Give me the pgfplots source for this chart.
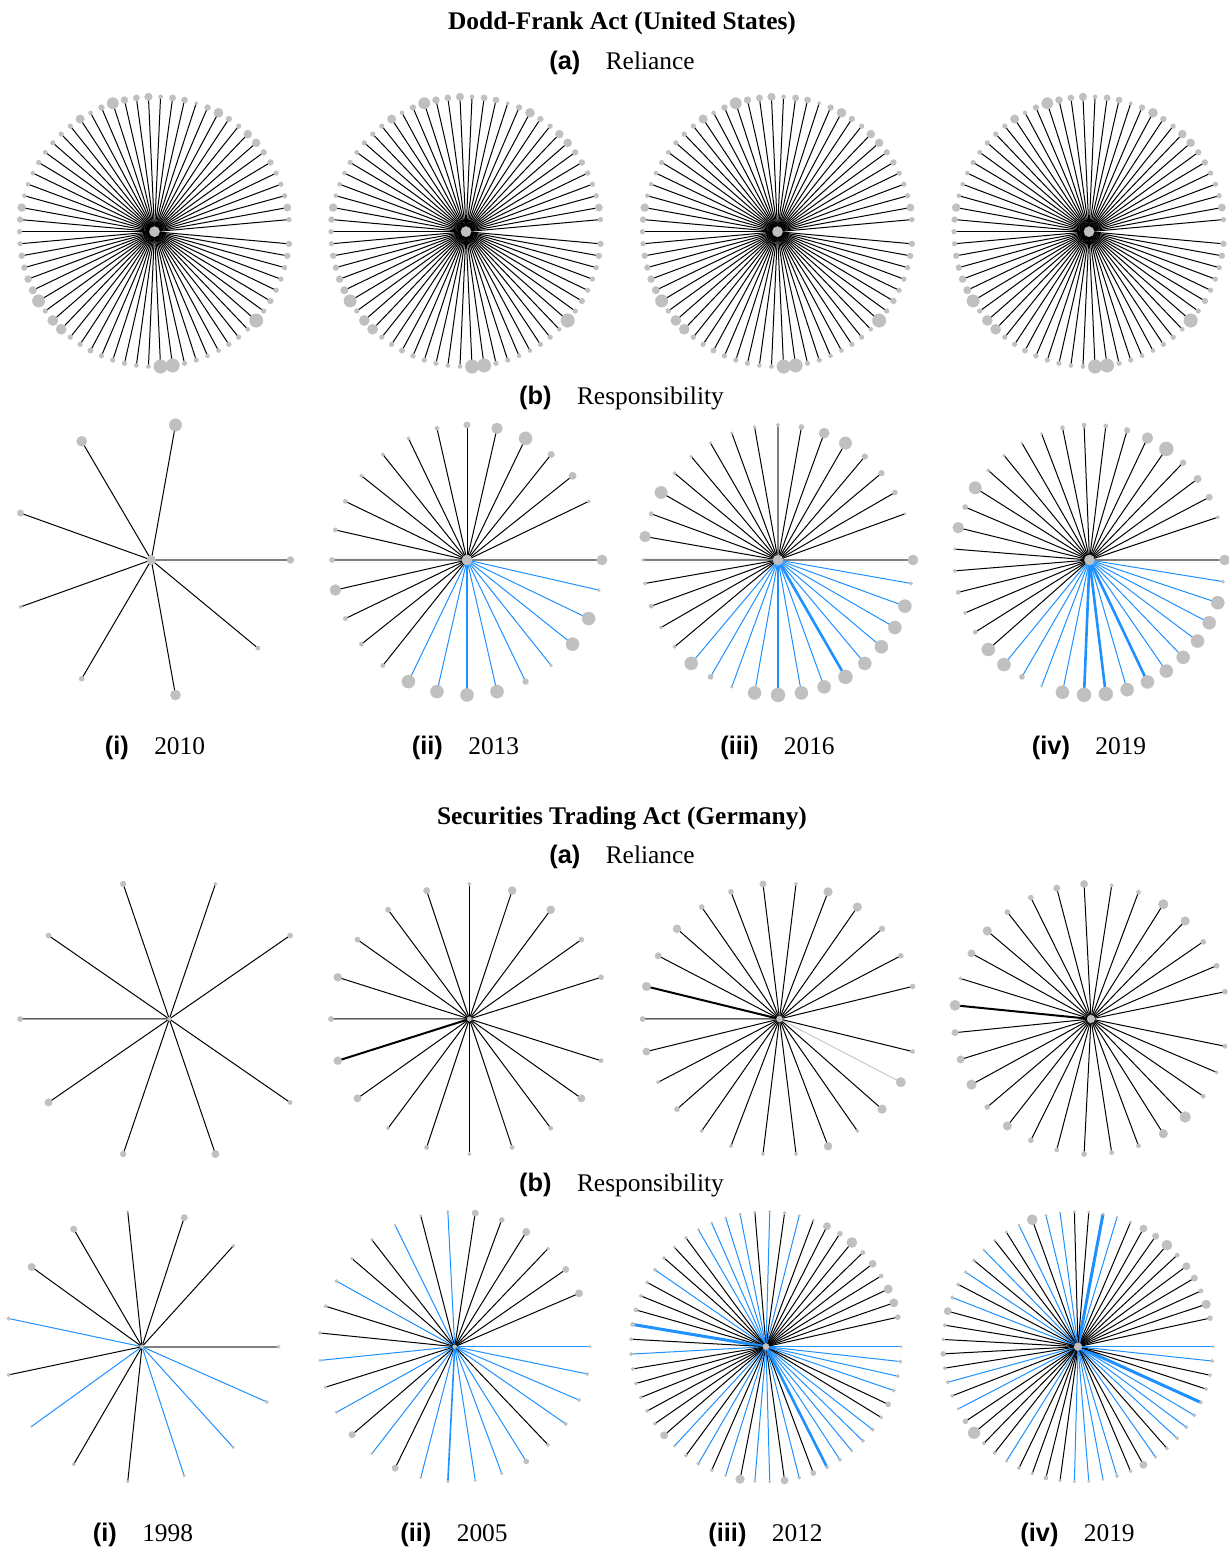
\documentclass[border=0pt]{standalone}
\usepackage{fontspec}
\setmainfont{Liberation Serif}
\setsansfont{Liberation Sans}
\usepackage{pgfplots}
\usepackage{pgfplotstable}
\pgfplotsset{compat=1.18}
\definecolor{nodegrey}{RGB}{192,192,192}

% DF reliance (shared by the four years), N=70
\pgfplotstableread{
k c w s
1 0 0.5 1.5
2 0 0.5 2.7
3 0 0.5 1.5
4 0 0.5 1.5
5 0 0.5 1.5
6 0 0.5 2
7 0 0.5 2
8 0 0.5 3
9 0 0.5 3
10 0 0.5 1.5
11 0 0.5 2
12 0 0.5 3.5
13 0 0.5 2
14 0 0.5 1
15 0 0.5 2.2
16 0 0.5 2.2
17 0 0.5 1.2
18 0 0.5 2.8
19 0 0.5 2.2
20 0 0.5 2.5
21 0 0.5 4.5
22 0 0.5 2
23 0 0.5 1.2
24 0 0.5 3.2
25 0 0.5 1.5
26 0 0.5 1.5
27 0 0.5 1.5
28 0 0.5 1.3
29 0 0.5 1.5
30 0 0.5 1.2
31 0 0.5 1.2
32 0 0.5 1.2
33 0 0.5 3
34 0 0.5 2
35 0 0.5 1.5
36 0 0.5 1.5
37 0 0.5 2
38 0 0.5 2
39 0 0.5 2.5
40 0 0.5 2.8
41 0 0.5 5
42 0 0.5 1.5
43 0 0.5 4
44 0 0.5 4
45 0 0.5 1.5
46 0 0.5 1.5
47 0 0.5 1.8
48 0 0.5 1.5
49 0 0.5 1.5
50 0 0.5 1.5
51 0 0.5 1.2
52 0 0.5 1.2
53 0 0.5 5.5
54 0 0.5 5.5
55 0 0.5 1.5
56 0 0.5 1.5
57 0 0.5 1.2
58 0 0.5 1.2
59 0 0.5 1.5
60 0 0.5 1.5
61 0 0.5 1.2
62 0 0.5 5.5
63 0 0.5 1.5
64 0 0.5 2
65 0 0.5 1.5
66 0 0.5 1.5
67 0 0.5 1.5
68 0 0.5 2
69 0 0.5 2
}\dfrel

% DF responsibility 2010, N=9
\pgfplotstableread{
k c w s
0 2 1.0 2.5
2 0 0.5 5
3 0 0.5 4
4 0 0.5 2.3
5 0 0.5 1
6 0 0.5 1.7
7 0 0.5 4
8 0 0.5 1.3
}\dfresA

% DF responsibility 2013, N=28
\pgfplotstableread{
k c w s
0 2 1.0 4
2 0 0.5 1
3 0 0.5 2.7
4 0 0.5 2.3
5 0 0.5 5.3
6 0 0.5 4.3
7 0 0.5 2.3
8 0 0.5 1.3
9 0 0.5 1
10 0 0.5 1
11 0 0.5 1
12 0 0.5 1.3
13 0 0.5 1.3
14 2 1.0 1.7
15 0 0.5 4.3
16 0 0.5 1.3
17 0 0.5 1.3
18 0 0.5 1.3
19 1 0.5 5.3
20 1 0.5 5.3
21 1 1.0 5.3
22 1 0.5 5.3
23 1 0.5 2
24 1 0.5 0.7
25 1 0.5 5.3
26 1 0.5 5.3
27 1 0.5 1
}\dfresB

% DF responsibility 2016, N=36
\pgfplotstableread{
k c w s
0 2 1.0 4
2 0 0.5 0.5
3 0 0.5 1.7
4 0 0.5 2
5 0 0.5 2
6 0 0.5 5
7 0 0.5 4
8 0 0.5 1.7
9 2 0.8 1
10 0 0.5 0.7
11 0 0.5 0.7
12 0 0.5 0.7
13 0 0.5 0.7
14 0 0.5 1
15 0 0.5 5
16 0 0.5 1.3
17 0 0.5 4.3
18 2 1.0 0.7
19 0 0.5 1
20 0 0.5 1.3
21 0 0.5 1
22 0 0.5 1
23 1 0.5 5.3
24 1 0.5 1.7
25 1 0.5 0.7
26 1 0.5 5.3
27 1 1.0 5.7
28 1 0.5 5.3
29 1 0.5 5.3
30 1 1.3 5.7
31 1 0.5 5.3
32 1 0.5 5.3
33 1 0.5 5.3
34 1 0.5 5.3
35 1 0.5 1
}\dfresC

% DF responsibility 2019, N=39
\pgfplotstableread{
k c w s
0 2 1.0 4
2 0 0.5 1
3 0 0.5 2.3
4 0 0.5 2.7
5 0 0.5 2
6 0 0.5 5.7
7 0 0.5 4.3
8 0 0.5 2
9 0 0.5 1.3
10 0 0.5 1.3
11 0 0.5 1.3
12 0 0.5 0.5
13 0 0.5 0.5
14 0 0.5 0.5
15 0 0.5 1
16 0 0.5 5
17 0 0.5 1.7
18 0 0.5 4.3
19 0 0.5 0.7
20 0 0.5 1
21 0 0.5 1.3
22 0 0.5 1
23 0 0.5 1.3
24 0 0.5 5.3
25 1 0.5 5.3
26 1 0.5 1.7
27 1 0.5 0.5
28 1 0.5 5.3
29 1 1.3 5.7
30 1 1.3 5.7
31 1 0.5 5.3
32 1 1.3 5.3
33 1 0.5 5.3
34 1 0.5 5.3
35 1 0.5 5.3
36 1 0.5 5.3
37 1 0.5 5.3
38 1 0.5 1
}\dfresD

% SEC reliance 1998, N=10
\pgfplotstableread{
k c w s
1 0 0.5 1.7
2 0 0.5 1
3 0 0.5 2
4 0 0.5 1.7
5 0 0.5 1.7
6 0 0.5 2.7
7 0 0.5 2
8 0 0.5 2.7
9 0 0.5 1.3
}\serelA

% SEC reliance 2005, N=20
\pgfplotstableread{
k c w s
1 0 0.5 1.7
2 0 0.5 1.7
3 0 0.5 3
4 0 0.5 3
5 0 0.5 1
6 0 0.5 2.3
7 0 0.5 1.7
8 0 0.5 1.7
9 0 0.5 3
10 0 0.5 1.7
11 0 1.0 3
12 0 0.5 2.7
13 0 0.5 1
14 0 0.5 1.3
15 0 0.5 1
16 0 0.5 1.3
17 0 0.5 1.3
18 0 0.5 2.7
19 0 0.5 1.3
}\serelB

% SEC reliance 2012, N=26
\pgfplotstableread{
k c w s
1 0 0.5 1.7
2 0 0.5 1.7
3 0 0.5 2
4 0 0.5 3.3
5 0 0.5 3.3
6 0 0.5 1
7 0 0.5 2.3
8 0 0.5 1.7
9 0 0.5 1.7
10 0 0.5 3
11 0 0.5 2.3
12 0 1.0 3.3
13 0 0.5 1.7
14 0 0.5 2.7
15 0 0.5 1
16 0 0.5 1.7
17 0 0.5 1
18 0 0.5 1
19 0 0.5 1
20 0 0.5 1
21 0 0.5 3
22 0 0.5 1
23 0 0.5 3.3
24 3 0.5 3.7
25 0 0.5 1.3
}\serelC

% SEC reliance 2019, N=31
\pgfplotstableread{
k c w s
1 0 0.5 1.7
2 0 0.5 1.7
3 0 0.5 1.7
4 0 0.5 3.3
5 0 0.5 3.7
6 0 0.5 1.3
7 0 0.5 1
8 0 0.5 2.7
9 0 0.5 2.3
10 0 0.5 1.7
11 0 0.5 1.7
12 0 0.5 3.3
13 0 0.5 2.7
14 0 0.5 1
15 0 1.0 4
16 0 0.5 2.3
17 0 0.5 2.7
18 0 0.5 3.7
19 0 0.5 1.7
20 0 0.5 3.3
21 0 0.5 1.7
22 0 0.5 1.3
23 0 0.5 1.7
24 0 0.5 1.3
25 0 0.5 1.3
26 0 0.5 3.3
27 0 0.5 4.3
28 0 0.5 1.3
29 0 0.5 1
30 0 0.5 1.3
}\serelD

% SEC responsibility 1998, N=15
\pgfplotstableread{
k c w s
0 2 1.0 1
2 0 0.5 1
3 0 0.5 2.3
4 0 0.5 0.5
5 0 0.5 2.3
6 0 0.5 2.7
7 1 0.5 1
8 0 0.5 1
9 1 0.5 0.5
10 0 0.5 1
11 0 0.5 0.5
12 1 0.5 0.5
13 1 0.5 0.5
14 1 0.5 1
}\seresA

% SEC responsibility 2005, N=31
\pgfplotstableread{
k c w s
0 1 0.5 0.5
2 0 0.5 2.7
3 0 0.5 2.3
4 0 0.5 1
5 0 0.5 2.7
6 0 0.5 1.7
7 0 0.5 2.3
8 1 0.5 0.5
9 0 0.5 0.5
10 1 0.5 0.5
11 0 0.5 0.7
12 0 0.5 0.7
13 1 0.5 1
14 0 0.5 1
15 0 0.5 1
16 1 0.5 0.7
17 0 0.5 0.7
18 1 0.5 0.7
19 0 0.5 2.3
20 1 0.5 0.5
21 0 0.5 2.3
22 1 0.5 0.5
23 1 0.8 0.5
24 1 0.5 0.5
25 1 0.5 0.7
26 1 0.5 1.7
27 0 0.5 1
28 1 0.5 1
29 1 0.5 1
30 1 0.5 1
}\seresB

% SEC responsibility 2012, N=57
\pgfplotstableread{
k c w s
0 1 0.5 0.5
2 0 0.5 1.7
3 0 0.5 3.2
4 0 0.5 3.2
5 0 0.5 1.3
6 0 0.5 2.7
7 0 0.5 1.3
8 0 0.5 4
9 0 0.5 1.7
10 0 0.5 2.7
11 0 0.5 0.7
12 1 0.5 0.7
13 0 0.5 0.7
14 1 0.5 0.5
15 0 0.5 0.5
16 1 0.5 0.5
17 1 0.5 0.5
18 1 0.5 0.5
19 1 0.5 0.5
20 0 0.5 1
21 0 0.5 0.7
22 0 0.5 1
23 1 0.5 1
24 0 0.5 1
25 0 0.5 1
26 0 0.5 1.3
27 1 1.5 1.3
28 0 0.5 1
29 1 0.5 1
30 0 0.5 1
31 0 0.5 1
32 0 0.5 1
33 0 0.5 1
34 0 0.5 1
35 0 0.5 2.7
36 1 0.5 0.5
37 0 0.5 1
38 1 0.5 1
39 0 0.5 1
40 1 0.5 0.5
41 0 0.5 3.3
42 1 0.5 0.5
43 1 0.5 0.5
44 0 0.5 2.7
45 1 0.5 1
46 0 0.5 1.7
47 1 1.3 1
48 1 0.5 1
49 1 0.5 0.5
50 1 0.5 1
51 1 0.5 1
52 0 0.5 1
53 0 0.5 1.7
54 1 0.5 1
55 1 0.5 1
56 1 0.5 1
}\seresC

% SEC responsibility 2019, N=59
\pgfplotstableread{
k c w s
0 1 0.5 0.5
2 0 0.5 1.7
3 0 0.5 3.3
4 0 0.5 1.3
5 0 0.5 2.3
6 0 0.5 2.7
7 0 0.5 1.3
8 0 0.5 4
9 0 0.5 2.3
10 0 0.5 2.7
11 0 0.5 0.7
12 1 0.5 0.5
13 1 1.5 0.5
14 0 0.5 0.5
15 0 0.5 0.5
16 1 0.5 0.5
17 1 0.5 0.5
18 0 0.5 4
19 1 0.5 0.5
20 0 0.5 0.7
21 0 0.5 0.5
22 1 0.5 0.5
23 0 0.5 1
24 1 0.5 0.7
25 0 0.5 1
26 1 0.5 1
27 0 0.5 2.7
28 0 0.5 1
29 0 0.5 0.7
30 0 0.5 1.7
31 0 0.5 1
32 1 0.5 1
33 0 0.5 1
34 1 0.5 0.5
35 0 0.5 1.7
36 0 0.5 4.7
37 0 0.5 1
38 0 0.5 1
39 1 0.5 0.5
40 0 0.5 1
41 0 0.5 0.7
42 0 0.5 1.3
43 0 0.5 0.7
44 1 0.5 0.5
45 1 0.5 0.5
46 1 0.5 0.5
47 1 0.5 1
48 0 0.5 1
49 0 0.5 2.7
50 1 0.5 0.5
51 0 0.5 1
52 1 0.5 1
53 1 0.5 1
54 1 0.5 1
55 1 1.5 1
56 0 0.5 1
57 0 0.5 1
58 1 0.5 1
}\seresD

% #1 table, #2 cx, #3 cy, #4 Rx, #5 Ry, #6 N, #7 centre node radius (pt)
\newcommand{\drawstar}[7]{%
\addplot[quiver={u={#4*cos(360*\thisrow{k}/#6)},v={#5*sin(360*\thisrow{k}/#6)},colored,
   every arrow/.append style={line width=\lw pt}},
   point meta=\thisrow{c},
   visualization depends on={\thisrow{w} \as \lw}]
   table[x expr=#2,y expr=#3]{#1};
\addplot[scatter,only marks,mark=*,color=nodegrey,point meta=\thisrow{c},
   visualization depends on={0.55*\thisrow{s}+0.4 \as \ms},
   scatter/@pre marker code/.code={\scope[mark size=\ms pt,draw=nodegrey,fill=nodegrey,line width=0.1pt]},
   scatter/@post marker code/.code={\endscope}]
   table[x expr={#2+#4*cos(360*\thisrow{k}/#6)},y expr={#3+#5*sin(360*\thisrow{k}/#6)}]{#1};
\addplot[only marks,mark=*,color=nodegrey,mark size=#7pt,mark options={line width=0.1pt}]
   coordinates {(#2,#3)};
}

\begin{document}
\begin{tikzpicture}
\begin{axis}[
  width=614pt, height=773.5pt, scale only axis,
  xmin=0, xmax=1228, ymin=0, ymax=1547,
  hide axis, clip=false,
  point meta min=0, point meta max=3,
  colormap={spk}{rgb255=(0,0,0) rgb255=(30,144,255) rgb255=(128,128,128) rgb255=(200,200,200)},
]
\path (rel axis cs:0,0) rectangle (rel axis cs:1,1);

% Dodd-Frank reliance
\drawstar{\dfrel}{154.5}{1315.3}{135}{135}{70}{2.6}
\drawstar{\dfrel}{466}{1315.3}{135}{135}{70}{2.6}
\drawstar{\dfrel}{777.5}{1315.3}{135}{135}{70}{2.6}
\drawstar{\dfrel}{1089}{1315.3}{135}{135}{70}{2.6}
% Dodd-Frank responsibility
\drawstar{\dfresA}{151.3}{987}{139.2}{137.1}{9}{2.3}
\drawstar{\dfresB}{467}{987}{135}{135}{28}{2.6}
\drawstar{\dfresC}{778}{987}{135}{135}{36}{2.6}
\drawstar{\dfresD}{1089.5}{987}{135.2}{135}{39}{2.6}
% SEC reliance
\drawstar{\serelA}{169.3}{528}{149.3}{142}{10}{1.0}
\drawstar{\serelB}{469.4}{528}{138.4}{135}{20}{1.2}
\drawstar{\serelC}{779.5}{528}{137}{136}{26}{1.6}
\drawstar{\serelD}{1091}{528}{136.7}{135.2}{31}{2.0}
% SEC responsibility
\drawstar{\seresA}{142}{200.3}{136.5}{135.7}{15}{1.0}
\drawstar{\seresB}{454.7}{200.3}{135.3}{135.2}{31}{1.0}
\drawstar{\seresC}{766}{200.3}{135.1}{135}{57}{1.6}
\drawstar{\seresD}{1078}{200.3}{135}{135}{59}{2.0}

\begin{scope}[every node/.style={font=\fontsize{12.7}{15}\selectfont,inner sep=0pt,anchor=base}]
\node at (axis cs:622,1517.5) {\bfseries Dodd-Frank Act (United States)};
\node at (axis cs:622,1477) {{\sffamily\bfseries (a)}\quad Reliance};
\node at (axis cs:621.5,1142) {{\sffamily\bfseries (b)}\quad Responsibility};
\node at (axis cs:155,792) {{\sffamily\bfseries (i)}\quad 2010};
\node at (axis cs:465.5,792) {{\sffamily\bfseries (ii)}\quad 2013};
\node at (axis cs:777.5,792) {{\sffamily\bfseries (iii)}\quad 2016};
\node at (axis cs:1089,792) {{\sffamily\bfseries (iv)}\quad 2019};
\node at (axis cs:622,722) {\bfseries Securities Trading Act (Germany)};
\node at (axis cs:622,683) {{\sffamily\bfseries (a)}\quad Reliance};
\node at (axis cs:621.5,355) {{\sffamily\bfseries (b)}\quad Responsibility};
\node at (axis cs:143,5.5) {{\sffamily\bfseries (i)}\quad 1998};
\node at (axis cs:454,5.5) {{\sffamily\bfseries (ii)}\quad 2005};
\node at (axis cs:765.5,5.5) {{\sffamily\bfseries (iii)}\quad 2012};
\node at (axis cs:1077.5,5.5) {{\sffamily\bfseries (iv)}\quad 2019};
\end{scope}
\end{axis}
\pgfresetboundingbox
\useasboundingbox (current axis.south west) rectangle (current axis.north east);
\end{tikzpicture}
\end{document}
